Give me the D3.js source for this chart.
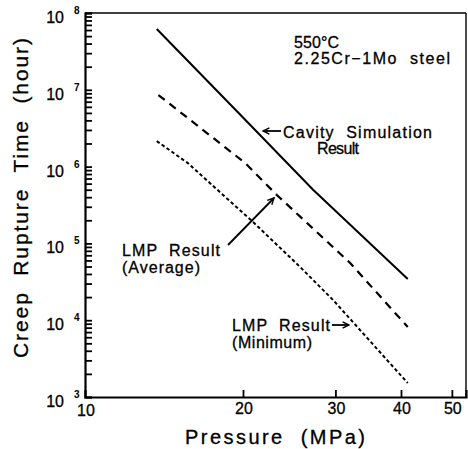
<!DOCTYPE html>
<html>
<head>
<meta charset="utf-8">
<script src="https://d3js.org/d3.v7.min.js"></script>
<style>
  body { margin: 0; background: #fff; }
  svg text { font-family: "Liberation Sans", Arial, sans-serif; fill: #000; white-space: pre; }
</style>
</head>
<body>
<svg id="chart" width="468" height="449"></svg>
<script>
// values (pressure in MPa, time in hours)
var cavityP = [13.7, 20, 27.2, 41.2];
var cavityT = [6.2e7, 4.35e6, 5.0e5, 3.44e4];

var avgP = [13.8, 20.2, 23.2, 32.0, 41.2];
var avgT = [8.55e6, 1.11e6, 4.27e5, 5.56e4, 8.15e3];

var minP = [13.7, 15.7, 20.9, 25.7, 29.7, 41.2];
var minT = [2.15e6, 1.11e6, 1.9e5, 4.93e4, 1.83e4, 1.52e3];

var xTicks = [10, 20, 30, 40, 50];
var yDecades = [3, 4, 5, 6, 7, 8];

var svg = d3.select('#chart');

// plot box (note: "top" is taken by window.top)
var pl = 85, pr = 466, pt = 13, pb = 397;

var x = d3.scaleLog().domain([10, 53.2]).range([pl, pr]);
var y = d3.scaleLog().domain([1e3, 1e8]).range([pb, pt]);

var line = d3.line()
    .x(function(d) { return x(d[0]); })
    .y(function(d) { return y(d[1]); });

function pairs(a, b) {
    return a.map(function(v, i) { return [v, b[i]]; });
}

// frame
svg.append('line').attr('x1', pl).attr('x2', pr).attr('y1', pt).attr('y2', pt)
    .attr('stroke', '#000').attr('stroke-width', 1.6);
svg.append('line').attr('x1', pr).attr('x2', pr).attr('y1', pt).attr('y2', pb)
    .attr('stroke', '#000').attr('stroke-width', 1.4);

// y axis: decade ticks plus minor 2..9, all pointing inward
var yTickVals = [];
yDecades.forEach(function(e, i) {
    yTickVals.push(Math.pow(10, e));
    if (i < yDecades.length - 1)
        d3.range(2, 10).forEach(function(m) { yTickVals.push(m * Math.pow(10, e)); });
});
var yAxis = svg.append('g').attr('transform', 'translate(' + pl + ',0)')
    .call(d3.axisRight(y).tickValues(yTickVals).tickSize(7).tickFormat(''));
yAxis.select('.domain').attr('stroke', '#000').attr('stroke-width', 2.2);
yAxis.selectAll('.tick line').attr('stroke', '#000').attr('stroke-width', 1.8);

// x axis with ticks pointing up
var xAxis = svg.append('g').attr('transform', 'translate(0,' + pb + ')')
    .call(d3.axisTop(x).tickValues(xTicks.slice(1)).tickSize(7).tickFormat(''));
xAxis.select('.domain').attr('stroke', '#000').attr('stroke-width', 2.2);
xAxis.selectAll('.tick line').attr('stroke', '#000').attr('stroke-width', 1.8);

// y tick labels 10^n
var yl = svg.append('g').selectAll('g').data(yDecades).enter().append('g')
    .attr('transform', function(d) { return 'translate(0,' + y(Math.pow(10, d)) + ')'; });
yl.append('text').attr('x', 64).attr('y', 10).attr('text-anchor', 'end')
    .attr('font-size', 16).attr('stroke', '#000').attr('stroke-width', 0.3).text('10');
yl.append('text').attr('x', 74).attr('y', 1).attr('font-size', 10).attr('font-weight', 'bold')
    .text(function(d) { return d; });

svg.append('g').selectAll('text').data(xTicks).enter().append('text')
    .attr('x', function(d) { return x(d) + 1; }).attr('y', function(d) { return d === 10 ? 416 : 414; })
    .attr('text-anchor', 'middle').attr('font-size', 16)
    .attr('stroke', '#000').attr('stroke-width', 0.3)
    .text(function(d) { return d; });

// axis titles
svg.append('text').attr('x', 275).attr('y', 444).attr('text-anchor', 'middle')
    .attr('font-size', 20).attr('textLength', 180).attr('lengthAdjust', 'spacing')
    .attr('stroke', '#000').attr('stroke-width', 0.3)
    .text('Pressure  (MPa)');
svg.append('text').attr('transform', 'translate(28,198) rotate(-90)').attr('text-anchor', 'middle')
    .attr('font-size', 21).attr('textLength', 320).attr('lengthAdjust', 'spacing')
    .attr('stroke', '#000').attr('stroke-width', 0.3)
    .text('Creep  Rupture  Time  (hour)');

// curves
svg.append('path').datum(pairs(cavityP, cavityT)).attr('d', line)
    .attr('fill', 'none').attr('stroke', '#000').attr('stroke-width', 2);
svg.append('path').datum(pairs(avgP, avgT)).attr('d', line)
    .attr('fill', 'none').attr('stroke', '#000').attr('stroke-width', 2.2)
    .attr('stroke-dasharray', '8,6');
svg.append('path').datum(pairs(minP, minT)).attr('d', line)
    .attr('fill', 'none').attr('stroke', '#000').attr('stroke-width', 2)
    .attr('stroke-dasharray', '3.5,2.5');

// annotations
function label(xp, yp, s, len) {
    var t = svg.append('text').attr('x', xp).attr('y', yp).attr('font-size', 16)
        .attr('stroke', '#000').attr('stroke-width', 0.3).text(s);
    if (len) t.attr('textLength', len).attr('lengthAdjust', 'spacing');
    return t;
}
label(294, 48, '550°C', 45);
label(294, 64, '2.25Cr\u22121Mo  steel', 156);
label(283, 138, 'Cavity  Simulation', 149);
label(317, 154, 'Result', 42);
label(122, 256, 'LMP  Result', 98);
label(122, 273, '(Average)', 78);
label(232, 331, 'LMP  Result', 98);
label(232, 348, '(Minimum)', 80);

svg.append('defs').append('marker').attr('id', 'ah')
    .attr('viewBox', '0 0 10 10').attr('refX', 9).attr('refY', 5)
    .attr('markerWidth', 8).attr('markerHeight', 8).attr('orient', 'auto')
    .attr('markerUnits', 'userSpaceOnUse')
    .append('path').attr('d', 'M1,1 L9,5 L1,9').attr('fill', 'none')
    .attr('stroke', '#000').attr('stroke-width', 1.8);

function arrow(x1, y1, x2, y2) {
    svg.append('line').attr('x1', x1).attr('y1', y1).attr('x2', x2).attr('y2', y2)
        .attr('stroke', '#000').attr('stroke-width', 1.8).attr('marker-end', 'url(#ah)');
}
arrow(281, 131, 263, 131);
arrow(228, 245, 274, 198);
arrow(332, 325, 349, 325);
</script>
</body>
</html>
